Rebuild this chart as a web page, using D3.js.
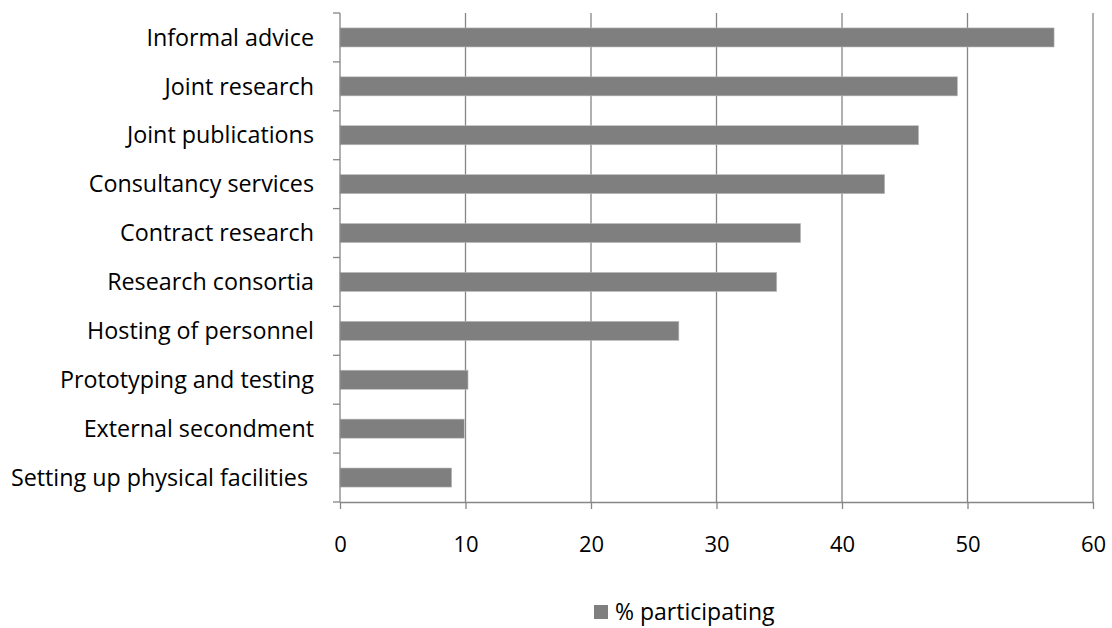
<!DOCTYPE html>
<html><head><meta charset="utf-8">
<script src="https://cdn.jsdelivr.net/npm/d3@7/dist/d3.min.js"></script>
<style>body{margin:0;background:#fff;} svg{display:block;} text{font-family:"Open Sans",sans-serif;fill:#000;}</style>
</head><body>
<svg id="c" width="1112" height="628"></svg>
<script>
const categories = ["Informal advice","Joint research","Joint publications","Consultancy services","Contract research","Research consortia","Hosting of personnel","Prototyping and testing","External secondment","Setting up physical facilities"];
const values = [56.9, 49.2, 46.1, 43.4, 36.7, 34.8, 27.0, 10.2, 9.9, 8.9];
const xTicks = [0,10,20,30,40,50,60];
const seriesName = "% participating";

(function(){
const svg = d3.select("#c");
const pL = 340, pR = 1093, pT = 13, pB = 502;
const x = d3.scaleLinear().domain([0,60]).range([pL,pR]);
const y = d3.scaleBand().domain(categories).range([pT,pB]).paddingInner(0.61).paddingOuter(0.305);
const axisCol = "#868686";

// gridlines
svg.append("g").selectAll("line").data(xTicks.filter(d=>d>0)).join("line")
  .attr("x1",d=>x(d)).attr("x2",d=>x(d)).attr("y1",pT).attr("y2",pB)
  .attr("stroke",axisCol).attr("stroke-width",1.3);

// bars
svg.append("g").selectAll("rect").data(categories).join("rect")
  .attr("x",x(0)).attr("y",d=>y(d)).attr("width",(d,i)=>x(values[i])-x(0)).attr("height",y.bandwidth())
  .attr("fill","#7f7f7f").attr("stroke","#bdbdbd").attr("stroke-width",0.6);

// x axis
const xa = svg.append("g").attr("transform",`translate(0,${pB})`).call(d3.axisBottom(x).tickValues(xTicks).tickSize(7).tickPadding(27).tickSizeOuter(0));
xa.select(".domain").attr("stroke",axisCol).attr("stroke-width",1.3);
xa.selectAll(".tick line").attr("stroke",axisCol).attr("stroke-width",1.3);
xa.selectAll("text").attr("font-size",22).attr("font-family","'Open Sans',sans-serif").attr("fill","#000");

// y axis (ticks at band boundaries)
const bounds = d3.range(categories.length+1).map(i=>pT + i*(pB-pT)/categories.length);
svg.append("line").attr("x1",pL).attr("x2",pL).attr("y1",pT).attr("y2",pB).attr("stroke",axisCol).attr("stroke-width",1.3);
svg.append("g").selectAll("line").data(bounds).join("line")
  .attr("x1",pL-7).attr("x2",pL).attr("y1",d=>d).attr("y2",d=>d).attr("stroke",axisCol).attr("stroke-width",1.3);
const labs = svg.append("g").selectAll("text").data(categories).join("text")
  .attr("x",314).attr("y",d=>y(d)+y.bandwidth()/2).attr("dy","0.35em").attr("text-anchor","end")
  .attr("font-size",23.3).text(d=>d);
labs.filter((d,i)=>i===categories.length-1).attr("x",308);

// legend
const lg = svg.append("g");
lg.append("rect").attr("x",594).attr("y",605).attr("width",14).attr("height",14).attr("fill","#7f7f7f");
lg.append("text").attr("x",615).attr("y",612).attr("dy","0.35em").attr("font-size",23).text(seriesName);
})();
</script>
</body></html>
